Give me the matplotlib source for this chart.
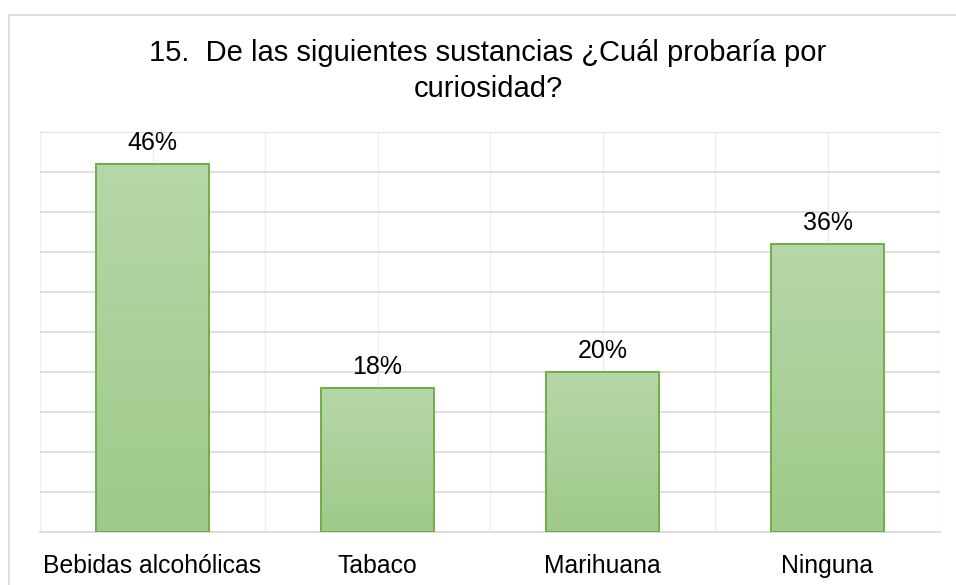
import numpy as np
import matplotlib.pyplot as plt
from matplotlib.patches import Rectangle
from matplotlib.colors import LinearSegmentedColormap

categorias = ["Bebidas alcohólicas", "Tabaco", "Marihuana", "Ninguna"]
porcentajes = [46, 18, 20, 36]
titulo = "15.  De las siguientes sustancias ¿Cuál probaría por\ncuriosidad?"

plt.rcParams['font.family'] = ['Liberation Sans', 'DejaVu Sans']


def main():
    fig = plt.figure(figsize=(9.56, 5.85), dpi=100)
    W, H = 956, 585

    # marco exterior del gráfico
    fig.patches.append(Rectangle((9 / W, -0.1), 1.2, 1 - 15 / H + 0.1,
                                 transform=fig.transFigure, fill=False,
                                 edgecolor="#d9d9d9", linewidth=1.2))

    ax = fig.add_axes([40 / W, 1 - 532 / H, 900 / W, 400 / H])
    x = np.arange(len(categorias))
    ancho = 0.5

    verde = LinearSegmentedColormap.from_list("verde", ["#9fca8a", "#b6d7a8"])
    grad = np.linspace(0, 1, 256).reshape(-1, 1)

    barras = ax.bar(x, porcentajes, width=ancho, color="none",
                    edgecolor="#70ad47", linewidth=1.4, zorder=3)
    for b in barras:
        img = ax.imshow(grad, cmap=verde, origin="lower", aspect="auto",
                        extent=[b.get_x(), b.get_x() + b.get_width(), 0, b.get_height()],
                        zorder=2)
        img.set_clip_path(b)
        ax.annotate(f"{b.get_height():.0f}%", (b.get_x() + b.get_width() / 2, b.get_height()),
                    xytext=(0, 10), textcoords="offset points", ha="center",
                    va="baseline", fontsize=18, color="#000000")

    ax.set_xlim(-0.5, len(categorias) - 0.5)
    ax.set_ylim(0, 50)
    ax.set_yticks(np.arange(0, 51, 5))
    ax.set_xticks(x)
    ax.set_xticks(np.arange(-0.5, len(categorias), 1), minor=True)
    ax.set_xticklabels(categorias, fontsize=17.8)
    ax.tick_params(axis="x", which="both", length=0, pad=16)
    ax.tick_params(axis="y", length=0, labelleft=False)

    ax.grid(axis="y", color="#d9d9d9", linewidth=1.2, zorder=0)
    ax.grid(axis="x", which="both", color="#efefef", linewidth=1.0, zorder=0)
    ax.set_axisbelow(True)
    for lado in ["top", "right", "left"]:
        ax.spines[lado].set_visible(False)
    ax.spines["bottom"].set_color("#d9d9d9")
    ax.spines["bottom"].set_linewidth(1.2)

    fig.text(488 / W, 1 - 71 / H, titulo, ha="center", va="center",
             fontsize=21, linespacing=1.32, color="#000000")

    fig.savefig("out.png", dpi=100)


if __name__ == "__main__":
    main()
